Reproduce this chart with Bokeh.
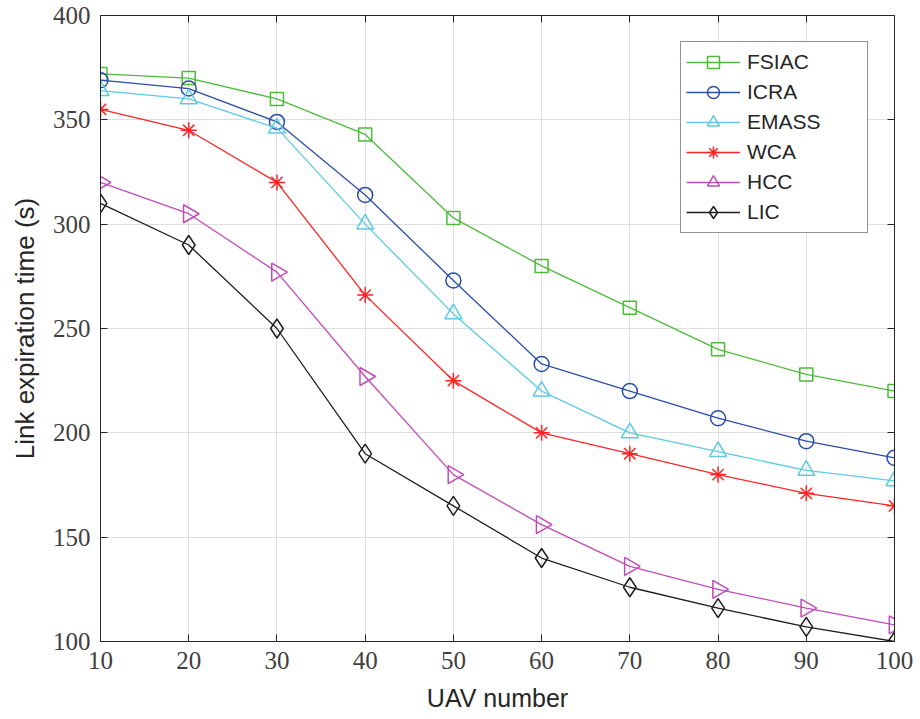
import numpy as np
from bokeh.plotting import figure
from bokeh.models import LinearAxis, Range1d, Legend, LegendItem, FixedTicker
from bokeh.embed import file_html
from bokeh.resources import INLINE

uav = [10, 20, 30, 40, 50, 60, 70, 80, 90, 100]
fsiac = [372, 370, 360, 343, 303, 280, 260, 240, 228, 220]
icra = [369, 365, 349, 314, 273, 233, 220, 207, 196, 188]
emass = [364, 360, 346, 300, 257, 220, 200, 191, 182, 177]
wca = [355, 345, 320, 266, 225, 200, 190, 180, 171, 165]
hcc = [320, 305, 277, 227, 180, 156, 136, 125, 116, 108]
lic = [310, 290, 250, 190, 165, 140, 126, 116, 107, 100]
names = ["FSIAC", "ICRA", "EMASS", "WCA", "HCC", "LIC"]
x_ticks = [10, 20, 30, 40, 50, 60, 70, 80, 90, 100]
y_ticks = [100, 150, 200, 250, 300, 350, 400]

FONT = "Liberation Sans"
TICK_FONT = "Liberation Sans Narrow"
p = figure(width=920, height=719, output_backend="svg", toolbar_location=None,
           x_range=Range1d(10, 100), y_range=Range1d(100, 400),
           min_border_left=100, min_border_right=26, min_border_top=15, min_border_bottom=78)
p.outline_line_color = None

axis_color = "#262626"
for ax in [p.xaxis[0], p.yaxis[0]]:
    ax.major_tick_in = 7
    ax.major_tick_out = 0
    ax.minor_tick_line_color = None
    ax.axis_line_color = axis_color
    ax.major_tick_line_color = axis_color
    ax.major_label_text_font = TICK_FONT
    ax.major_label_text_font_size = "25px"
    ax.major_label_text_color = "#404040"
    ax.axis_label_text_font = FONT
    ax.axis_label_text_font_style = "normal"
    ax.axis_label_text_color = "#262626"
p.xaxis.ticker = FixedTicker(ticks=x_ticks)
p.yaxis.ticker = FixedTicker(ticks=y_ticks)
p.xaxis.axis_label = "UAV number"
p.yaxis.axis_label = "Link expiration time (s)"
p.xaxis.axis_label_text_font_size = "25px"
p.yaxis.axis_label_text_font_size = "26px"
p.xaxis.major_label_standoff = 10
p.yaxis.major_label_standoff = 10
p.xaxis.axis_label_standoff = 12
p.yaxis.axis_label_standoff = 10

for loc in ["right", "above"]:
    ax = LinearAxis(ticker=FixedTicker(ticks=x_ticks if loc == "above" else y_ticks))
    ax.major_label_text_font_size = "0px"
    ax.major_tick_in = 7
    ax.major_tick_out = 0
    ax.minor_tick_line_color = None
    ax.axis_line_color = axis_color
    ax.major_tick_line_color = axis_color
    p.add_layout(ax, loc)

p.grid.grid_line_color = "#DEDEDE"
p.grid.grid_line_width = 1
p.xgrid.ticker = FixedTicker(ticks=x_ticks)
p.ygrid.ticker = FixedTicker(ticks=y_ticks)

series = [fsiac, icra, emass, wca, hcc, lic]
colors = ["#4DBB3A", "#2A4DA8", "#5CCAE0", "#FF2424", "#C04CB8", "#1E1E1E"]
markers = ["square", "circle", "triangle", "asterisk", "triangle", "diamond"]
sizes = [13, 15, 17, 16, 18, 19]
angles = [0, 0, 0, 0, -np.pi / 2, 0]

items = []
for name, ys, c, m, s, a in zip(names, series, colors, markers, sizes, angles):
    r1 = p.line(uav, ys, line_color=c, line_width=1.3)
    r2 = p.scatter(uav, ys, marker=m, size=s, angle=a, line_color=c, fill_color=None, line_width=1.5)
    items.append(LegendItem(label=name, renderers=[r1, r2]))

legend = Legend(items=items, location="top_right")
legend.label_text_font = FONT
legend.label_text_font_size = "21px"
legend.label_text_color = "#262626"
legend.border_line_color = "#262626"
legend.border_line_width = 1
legend.glyph_width = 54
legend.glyph_height = 30
legend.label_height = 30
legend.label_width = 115
legend.spacing = 0
legend.padding = 5
legend.margin = 26
legend.label_standoff = 7
p.add_layout(legend)

open("out.html", "w").write(file_html(p, INLINE))
